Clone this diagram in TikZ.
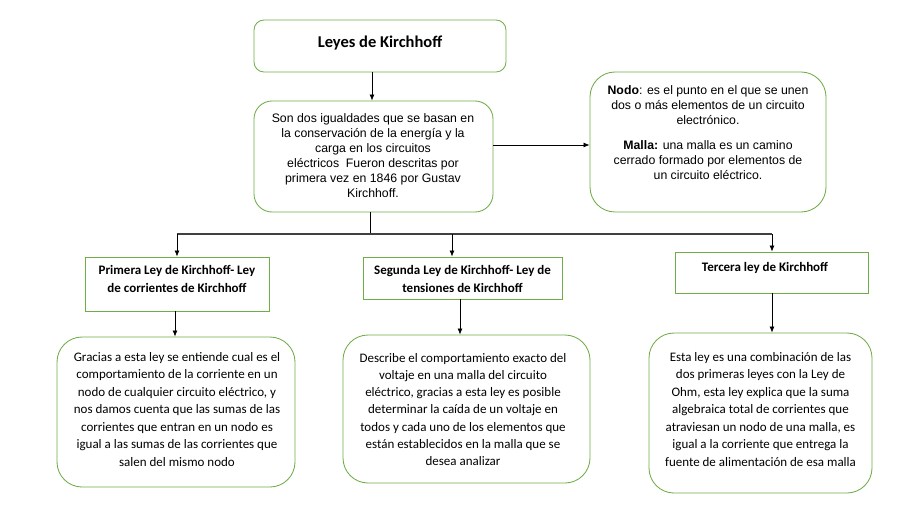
\documentclass[tikz,border=0pt]{standalone}
\usepackage{fontspec}
\setmainfont{Carlito}
\newfontfamily\arialf{Liberation Sans}
\usetikzlibrary{arrows.meta}
\definecolor{boxgreen}{RGB}{112,173,71}
\tikzset{
  rbox/.style={draw=boxgreen, line width=0.85pt, fill=white},
  sbox/.style={draw=boxgreen, line width=0.85pt, fill=white, inner sep=0pt},
  txt/.style={align=center, inner sep=0pt},
  con/.style={draw=black, line width=0.75pt},
  arr/.style={con, -{Latex[length=6pt,width=5pt]}},
}
\begin{document}
\begin{tikzpicture}[x=1pt,y=-1pt]
\useasboundingbox (0,0) rectangle (899,513);
\fill[white] (0,0) rectangle (899,513);
% title
\node[rbox, rounded corners=10pt, minimum width=252pt, minimum height=52pt] (title) at (380,46) {};
\node[txt, font=\fontsize{16.5}{19}\selectfont\bfseries] (titletxt) at (380,43) {Leyes de Kirchhoff};
% middle
\node[rbox, rounded corners=18pt, minimum width=239pt, minimum height=111pt] (mid) at (373.5,156.5) {};
\node[txt, font=\arialf\fontsize{12.3}{15}\selectfont] (midtxt) at (373,156) {Son dos igualdades que se basan en\\la conservación de la energía y la\\carga en los circuitos\\eléctricos\ \ Fueron descritas por\\primera vez en 1846 por Gustav\\Kirchhoff.};
% nodo
\node[rbox, rounded corners=25pt, minimum width=236pt, minimum height=140pt] (nodo) at (708,142) {};
\node[txt, font=\arialf\fontsize{12.3}{15}\selectfont] (nodotxt) at (708,133) {\textbf{Nodo}: es el punto en el que se unen\\dos o más elementos de un circuito\\electrónico.\\[10pt]\textbf{Malla:} una malla es un camino\\cerrado formado por elementos de\\un circuito eléctrico.};
% second level boxes
\node[sbox, minimum width=184pt, minimum height=54pt] (pri) at (177,284) {};
\node[txt, font=\fontsize{13}{18}\selectfont\bfseries] (pritxt) at (177,279) {Primera Ley de Kirchhoff- Ley\\de corrientes de Kirchhoff};
\node[sbox, minimum width=199pt, minimum height=42pt] (seg) at (462.5,278) {};
\node[txt, font=\fontsize{13}{18}\selectfont\bfseries] (segtxt) at (462.5,279) {Segunda Ley de Kirchhoff- Ley de\\tensiones de Kirchhoff};
\node[sbox, minimum width=193pt, minimum height=41pt] (ter) at (771.5,272.5) {};
\node[txt, font=\fontsize{13}{18}\selectfont\bfseries] (tertxt) at (765,268) {Tercera ley de Kirchhoff};
% bottom boxes
\node[rbox, rounded corners=25pt, minimum width=238pt, minimum height=150pt] (bl) at (176,412) {};
\node[txt, font=\fontsize{13}{17.5}\selectfont] (bltxt) at (177,409.5) {Gracias a esta ley se entiende cual es el\\comportamiento de la corriente en un\\nodo de cualquier circuito eléctrico, y\\nos damos cuenta que las sumas de las\\corrientes que entran en un nodo es\\igual a las sumas de las corrientes que\\salen del mismo nodo};
\node[rbox, rounded corners=25pt, minimum width=247pt, minimum height=148pt] (bm) at (466.5,409) {};
\node[txt, font=\fontsize{13}{17.2}\selectfont] (bmtxt) at (463,409.5) {Describe el comportamiento exacto del\\voltaje en una malla del circuito\\eléctrico, gracias a esta ley es posible\\determinar la caída de un voltaje en\\todos y cada uno de los elementos que\\están establecidos en la malla que se\\desea analizar};
\node[rbox, rounded corners=25pt, minimum width=223pt, minimum height=160pt] (br) at (760.5,413) {};
\node[txt, font=\fontsize{13}{17.5}\selectfont] (brtxt) at (760.5,409.5) {Esta ley es una combinación de las\\dos primeras leyes con la Ley de\\Ohm, esta ley explica que la suma\\algebraica total de corrientes que\\atraviesan un nodo de una malla, es\\igual a la corriente que entrega la\\fuente de alimentación de esa malla};
% connectors
\coordinate (busL) at (177,234);
\coordinate (busR) at (772,234);
\coordinate (busM) at (370,234);
\draw[arr] (title.south -| 372,0) -- (mid.north -| 372,0);
\draw[arr] ([yshift=11.5pt]mid.east) -- ([yshift=11.5pt]mid.east -| nodo.west);
\draw[con] (mid.south -| busM) -- (busM);
\draw[con, draw=black!75, line width=1.1pt] (busL) -- (busR);
\draw[arr] (busL) -- (pri.north -| busL);
\draw[arr] (452,234) -- (seg.north -| 452,0);
\draw[arr] (busR) -- (ter.north -| busR);
\draw[arr] (pri.south -| 175,0) -- (bl.north -| 175,0);
\draw[arr] (seg.south -| 460,0) -- (bm.north -| 460,0);
\draw[arr] (ter.south -| 772,0) -- (br.north -| 772,0);
\end{tikzpicture}
\end{document}
